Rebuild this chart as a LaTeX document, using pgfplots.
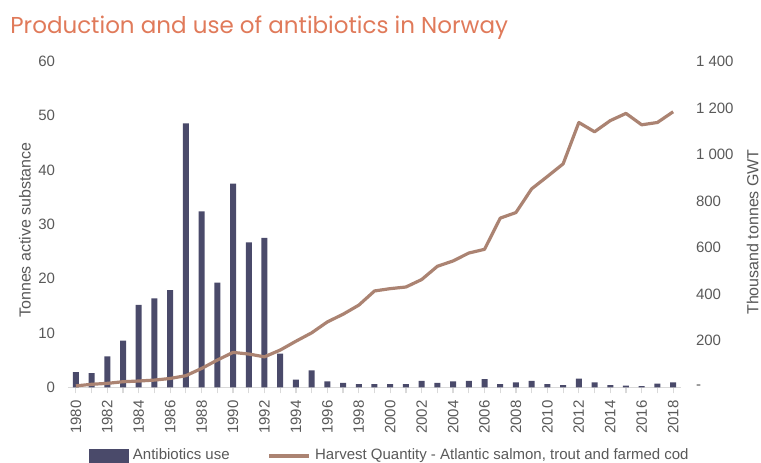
\documentclass[border=0pt]{standalone}
\usepackage{fontspec}
\setmainfont{Liberation Sans}
\newfontfamily\titlefont{Poppins}
\usepackage{pgfplots}
\pgfplotsset{compat=1.18}
\definecolor{barc}{HTML}{4A4A6A}
\definecolor{linec}{HTML}{AB8372}
\definecolor{txtc}{HTML}{595959}
\definecolor{axc}{HTML}{D9D9D9}
\definecolor{titc}{HTML}{E07A5A}
\begin{document}
\begin{tikzpicture}
\useasboundingbox (0,0) rectangle (380.5pt,-231pt);
\node[anchor=base west, text=titc, font=\titlefont\fontsize{11.5}{13}\selectfont, inner sep=0pt] at (5pt,-16.5pt) {Production and use of antibiotics in Norway};
\begin{axis}[
  at={(34pt,-193.65pt)}, anchor=south west,
  scale only axis, width=306.5pt, height=162.9pt,
  xmin=1979.5, xmax=2018.5, ymin=0, ymax=60,
  axis y line*=left, axis x line*=bottom,
  y axis line style={draw=none},
  x axis line style={draw=axc, line width=0.8pt},
  xtick={1980,1982,...,2018}, minor xtick={1981,1983,...,2017},
  xticklabels={1980,1982,1984,1986,1988,1990,1992,1994,1996,1998,2000,2002,2004,2006,2008,2010,2012,2014,2016,2018},
  x tick label style={rotate=90, anchor=east, text=txtc, font=\fontsize{7.5}{9}\selectfont},
  tick align=outside, major tick length=3pt, minor tick length=3pt,
  every tick/.style={draw=axc, line width=0.6pt},
  ytick={0,10,...,60}, yticklabels={0,10,20,30,40,50,60},
  y tick label style={text=txtc, font=\fontsize{7.5}{9}\selectfont},
  ytick style={draw=none},
  legend style={draw=none, fill=none, legend columns=2, at={(0.024,-0.21)}, anchor=west, font=\fontsize{7.5}{9}\selectfont, text=txtc, /tikz/every even column/.append style={column sep=17pt}},
  legend image code/.code={\draw[#1, draw=none] (0cm,-0.12cm) rectangle (0.7cm,0.12cm);},
]
\addplot[ybar, bar width=3pt, fill=barc, draw=none] coordinates {
(1980,2.8) (1981,2.6) (1982,5.7) (1983,8.6) (1984,15.2) (1985,16.4) (1986,17.9)
(1987,48.6) (1988,32.4) (1989,19.3) (1990,37.5) (1991,26.7) (1992,27.5) (1993,6.2)
(1994,1.4) (1995,3.1) (1996,1.1) (1997,0.8) (1998,0.6) (1999,0.6) (2000,0.6)
(2001,0.6) (2002,1.2) (2003,0.8) (2004,1.1) (2005,1.2) (2006,1.5) (2007,0.6)
(2008,0.9) (2009,1.2) (2010,0.6) (2011,0.4) (2012,1.6) (2013,0.9) (2014,0.4)
(2015,0.3) (2016,0.2) (2017,0.7) (2018,0.9)};
\addlegendentry{Antibiotics use}
\addlegendimage{legend image code/.code={\draw[linec, line width=1.8pt] (0cm,0cm) -- (0.7cm,0cm);}}
\addlegendentry{Harvest Quantity - Atlantic salmon, trout and farmed cod}
\end{axis}
\begin{axis}[
  at={(34pt,-193.65pt)}, anchor=south west,
  scale only axis, width=306.5pt, height=162.9pt,
  xmin=1979.5, xmax=2018.5, ymin=0, ymax=1400,
  axis y line*=right, axis x line=none,
  y axis line style={draw=none}, ytick style={draw=none},
  ytick={0,200,...,1400},
  yticklabels={-,200,400,600,800,1 000,1 200,1 400},
  y tick label style={text=txtc, font=\fontsize{7.5}{9}\selectfont, anchor=west},
  yticklabel shift=4pt,
]
\addplot[linec, line width=1.6pt, line join=round] coordinates {
(1980,6) (1981,13) (1982,17) (1983,24) (1984,27) (1985,31) (1986,38) (1987,50)
(1988,81) (1989,117) (1990,150) (1991,143) (1992,131) (1993,160) (1994,198)
(1995,234) (1996,281) (1997,314) (1998,353) (1999,414) (2000,424) (2001,431)
(2002,463) (2003,520) (2004,543) (2005,577) (2006,593) (2007,727) (2008,751)
(2009,853) (2010,906) (2011,960) (2012,1138) (2013,1098) (2014,1146) (2015,1177)
(2016,1128) (2017,1138) (2018,1184)};
\end{axis}
\node[rotate=90, text=txtc, font=\fontsize{8}{10}\selectfont] at (12.5pt,-115pt) {Tonnes active substance};
\node[rotate=90, text=txtc, font=\fontsize{8}{10}\selectfont, anchor=south, inner sep=1pt] at (380.5pt,-116pt) {Thousand tonnes GWT};
\end{tikzpicture}
\end{document}
